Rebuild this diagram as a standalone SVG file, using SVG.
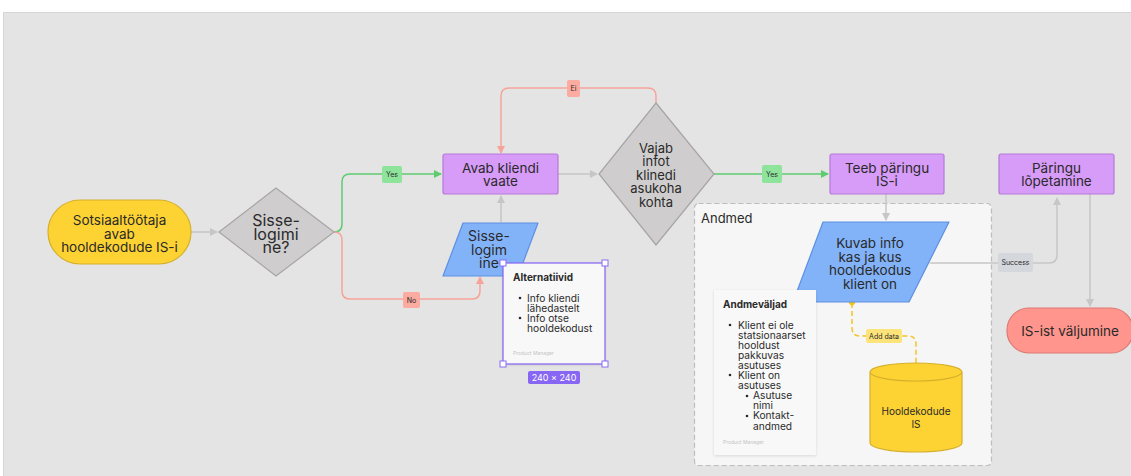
<svg xmlns="http://www.w3.org/2000/svg" width="1131" height="476" viewBox="0 0 1131 476">
  <defs>
    <style>
      .t { font-family: Inter, "Noto Sans", "Liberation Sans", sans-serif; fill: #2a2a2a; text-anchor: middle; }
      .node-text { font-size: 13.5px; }
      .small { font-size: 7px; }
      .card-title { font-family: Inter, "Noto Sans", "Liberation Sans", sans-serif; font-size: 10px; font-weight: 700; fill: #2a2a2a; }
      .card-item { font-family: Inter, "Noto Sans", "Liberation Sans", sans-serif; font-size: 10.2px; fill: #2a2a2a; }
      .card-foot { font-family: Inter, "Noto Sans", "Liberation Sans", sans-serif; font-size: 5px; fill: #c4c4c4; }
      .proc { fill: #d79bf8; stroke: #b57ad8; stroke-width: 1.2; }
      .io { fill: #82b3f9; stroke: #5c90e2; stroke-width: 1.2; }
      .dec { fill: #cfcdcd; stroke: #a6a4a4; stroke-width: 1.2; }
      .term { fill: #fdd233; stroke: #d6b02c; stroke-width: 1.2; }
      .end { fill: #ff958d; stroke: #dd7b73; stroke-width: 1.2; }
      .edge { fill: none; stroke-width: 1.5; }
      .gray { stroke: #c6c6c6; }
      .green { stroke: #5ccc6f; }
      .red { stroke: #f6a49a; }
      .card { fill: #f8f8f8; }
      .handle { fill: #ffffff; stroke: #8a6cf4; stroke-width: 1; }
    </style>
    <marker id="ah-gray" viewBox="0 0 8 8" refX="7" refY="4" markerWidth="8" markerHeight="8" markerUnits="userSpaceOnUse" orient="auto">
      <path d="M0,0 L8,4 L0,8 z" fill="#c6c6c6"/>
    </marker>
    <marker id="ah-green" viewBox="0 0 8 8" refX="7" refY="4" markerWidth="8" markerHeight="8" markerUnits="userSpaceOnUse" orient="auto">
      <path d="M0,0 L8,4 L0,8 z" fill="#5ccc6f"/>
    </marker>
    <marker id="ah-red" viewBox="0 0 8 8" refX="7" refY="4" markerWidth="8" markerHeight="8" markerUnits="userSpaceOnUse" orient="auto">
      <path d="M0,0 L8,4 L0,8 z" fill="#f6a49a"/>
    </marker>
    <marker id="dm-yellow" viewBox="0 0 8 8" refX="4" refY="4" markerWidth="7" markerHeight="7" markerUnits="userSpaceOnUse" orient="auto">
      <path d="M4,0 L8,4 L4,8 L0,4 z" fill="#f2c524"/>
    </marker>
    <filter id="shadow" x="-20%" y="-20%" width="140%" height="140%">
      <feDropShadow dx="0" dy="1" stdDeviation="1.5" flood-color="#000" flood-opacity="0.12"/>
    </filter>
  </defs>

  <!-- canvas -->
  <rect x="0" y="0" width="1131" height="476" fill="#ffffff"/>
  <rect x="3.5" y="12.5" width="1130" height="466" fill="#e4e4e4" stroke="#d6d6d6" stroke-width="1"/>

  <!-- data container -->
  <g id="andmed">
    <rect x="694.5" y="203.5" width="297" height="262" rx="4" fill="#f6f6f6" stroke="#bdbdbd" stroke-width="1.2" stroke-dasharray="5 3"/>
    <text x="701" y="223" style="font-family: Inter, 'Noto Sans', 'Liberation Sans', sans-serif; font-size: 13px; fill: #2a2a2a;">Andmed</text>
  </g>

  <!-- connectors -->
  <g id="connectors">
    <path class="edge gray" d="M191,232 H217" marker-end="url(#ah-gray)"/>
    <path class="edge green" d="M334,232 Q342,232 342,224 V182 Q342,174 350,174 H441" marker-end="url(#ah-green)"/>
    <path class="edge red" d="M334,232 Q342,232 342,240 V291 Q342,299 350,299 H472 Q480,299 480,291 V277" marker-end="url(#ah-red)"/>
    <path class="edge red" d="M656,103 V96 Q656,88 648,88 H509 Q501,88 501,96 V153" marker-end="url(#ah-red)"/>
    <path class="edge gray" d="M501,222 V196" marker-end="url(#ah-gray)"/>
    <path class="edge gray" d="M558,174 H597" marker-end="url(#ah-gray)"/>
    <path class="edge green" d="M714,174 H828" marker-end="url(#ah-green)"/>
    <path class="edge gray" d="M886,194 V220" marker-end="url(#ah-gray)"/>
    <path class="edge gray" d="M930,263 H1049 Q1057,263 1057,255 V198" marker-end="url(#ah-gray)"/>
    <path class="edge gray" d="M1090,194 V306" marker-end="url(#ah-gray)"/>
    <path d="M852,303 V328 Q852,336 860,336 H908 Q916,336 916,344 V363" fill="none" stroke="#f2c524" stroke-width="1.5" stroke-dasharray="5 3" marker-start="url(#dm-yellow)"/>

    <!-- connector labels -->
    <rect x="382" y="166" width="20" height="17" rx="2" fill="#8fe49b"/>
    <text class="t small" x="392" y="177">Yes</text>
    <rect x="403" y="292" width="17" height="16" rx="2" fill="#fbab9f"/>
    <text class="t small" x="411.5" y="302.5">No</text>
    <rect x="567" y="80" width="13" height="17" rx="2" fill="#fbab9f"/>
    <text class="t small" x="573.5" y="91">Ei</text>
    <rect x="762" y="165" width="20" height="18" rx="2" fill="#8fe49b"/>
    <text class="t small" x="772" y="176.5">Yes</text>
    <rect x="998" y="253" width="35" height="19" rx="2" fill="#d4d7dc"/>
    <text class="t small" x="1015.5" y="265">Success</text>
    <rect x="866" y="329" width="36" height="14" rx="2" fill="#fde47a"/>
    <text class="t small" x="884" y="338.5">Add data</text>
  </g>

  <g id="start">
    <rect class="term" x="48" y="200" width="143" height="64" rx="32"/>
    <text class="t node-text" x="119.5" y="225"><tspan x="119.5">Sotsiaaltöötaja</tspan><tspan x="119.5" dy="13.5">avab</tspan><tspan x="119.5" dy="13.5">hooldekodude IS-i</tspan></text>
  </g>

  <g id="sisselogimine-q">
    <polygon class="dec" points="276,188 334,232 276,276 219,232"/>
    <text class="t" style="font-size:16px" x="276" y="226"><tspan x="276">Sisse-</tspan><tspan x="276" dy="13.5">logimi</tspan><tspan x="276" dy="13.5">ne?</tspan></text>
  </g>

  <g id="avab-kliendi-vaate">
    <rect class="proc" x="443" y="154" width="115" height="40" rx="2"/>
    <text class="t node-text" x="500.5" y="172.5"><tspan x="500.5">Avab kliendi</tspan><tspan x="500.5" dy="13.5">vaate</tspan></text>
  </g>

  <g id="sisselogimine">
    <polygon class="io" points="463,223 538,223 518,276 443,276" stroke-linejoin="round"/>
    <text class="t" style="font-size:14px" x="489" y="241"><tspan x="489">Sisse-</tspan><tspan x="489" dy="13.5">logim</tspan><tspan x="489" dy="13.5">ine</tspan></text>
  </g>

  <g id="alternatiivid">
    <rect class="card" x="503" y="263" width="102" height="101" filter="url(#shadow)"/>
    <rect x="503" y="263" width="102" height="101" fill="none" stroke="#8a6cf4" stroke-width="1.3"/>
    <text class="card-title" x="513" y="280.5">Alternatiivid</text>
    <circle cx="520" cy="298" r="1.3" fill="#2a2a2a"/>
    <circle cx="520" cy="318" r="1.3" fill="#2a2a2a"/>
    <text class="card-item" x="527" y="301.5"><tspan x="527">Info kliendi</tspan><tspan x="527" dy="10">lähedastelt</tspan><tspan x="527" dy="10">Info otse</tspan><tspan x="527" dy="10">hooldekodust</tspan></text>
    <text class="card-foot" x="513" y="355">Product Manager</text>
    <rect class="handle" x="500" y="260" width="6" height="6"/>
    <rect class="handle" x="602" y="260" width="6" height="6"/>
    <rect class="handle" x="500" y="361" width="6" height="6"/>
    <rect class="handle" x="602" y="361" width="6" height="6"/>
    <rect x="528" y="371" width="52" height="13" rx="2" fill="#8866f4"/>
    <text class="t" style="font-size:9px; fill:#ffffff" x="554" y="380.5">240 × 240</text>
  </g>

  <g id="vajab-infot">
    <polygon class="dec" points="656,103 714,174 656,245 599,174"/>
    <text class="t" style="font-size:13px" x="656" y="152.5"><tspan x="656">Vajab</tspan><tspan x="656" dy="13.6">infot</tspan><tspan x="656" dy="13.6">klinedi</tspan><tspan x="656" dy="13.6">asukoha</tspan><tspan x="656" dy="13.6">kohta</tspan></text>
  </g>

  <g id="teeb-paringu">
    <rect class="proc" x="830" y="154" width="114" height="40" rx="2"/>
    <text class="t node-text" x="887" y="172.5"><tspan x="887">Teeb päringu</tspan><tspan x="887" dy="13.5">IS-i</tspan></text>
  </g>

  <g id="kuvab-info">
    <polygon class="io" points="823,222 949,222 909,302 793,302" stroke-linejoin="round"/>
    <text class="t node-text" x="870" y="248"><tspan x="870">Kuvab info</tspan><tspan x="870" dy="13.5">kas ja kus</tspan><tspan x="870" dy="13.5">hooldekodus</tspan><tspan x="870" dy="13.5">klient on</tspan></text>
  </g>

  <g id="andmevaljad">
    <rect class="card" x="714" y="290" width="102" height="165" filter="url(#shadow)"/>
    <text class="card-title" x="723" y="307.5">Andmeväljad</text>
    <circle cx="730" cy="325" r="1.3" fill="#2a2a2a"/>
    <circle cx="730" cy="375" r="1.3" fill="#2a2a2a"/>
    <circle cx="747" cy="396" r="1.3" fill="#2a2a2a"/>
    <circle cx="747" cy="416" r="1.3" fill="#2a2a2a"/>
    <text class="card-item" x="738" y="328.5"><tspan x="738">Klient ei ole</tspan><tspan x="738" dy="10.1">statsionaarset</tspan><tspan x="738" dy="10.1">hooldust</tspan><tspan x="738" dy="10.1">pakkuvas</tspan><tspan x="738" dy="10.1">asutuses</tspan><tspan x="738" dy="10.1">Klient on</tspan><tspan x="738" dy="10.1">asutuses</tspan><tspan x="753" dy="10.1">Asutuse</tspan><tspan x="753" dy="10.1">nimi</tspan><tspan x="753" dy="10.1">Kontakt-</tspan><tspan x="753" dy="10.1">andmed</tspan></text>
    <text class="card-foot" x="723" y="444">Product Manager</text>
  </g>

  <g id="hooldekodude-is">
    <path class="term" d="M870,372 V443 A46,9 0 0 0 962,443 V372 A46,9 0 0 0 870,372 Z"/>
    <path d="M870,372 A46,9 0 0 0 962,372" fill="none" stroke="#d6b02c" stroke-width="1.2"/>
    <text class="t" style="font-size:10px" x="916" y="414.5"><tspan x="916">Hooldekodude</tspan><tspan x="916" dy="13">IS</tspan></text>
  </g>

  <g id="paringu-lopetamine">
    <rect class="proc" x="999" y="154" width="115" height="40" rx="2"/>
    <text class="t node-text" x="1056.5" y="172.5"><tspan x="1056.5">Päringu</tspan><tspan x="1056.5" dy="13.5">lõpetamine</tspan></text>
  </g>

  <g id="is-ist-valjumine">
    <rect class="end" x="1007" y="308" width="126" height="45" rx="22"/>
    <text class="t" style="font-size:13.5px" x="1070" y="336">IS-ist väljumine</text>
  </g>
</svg>
